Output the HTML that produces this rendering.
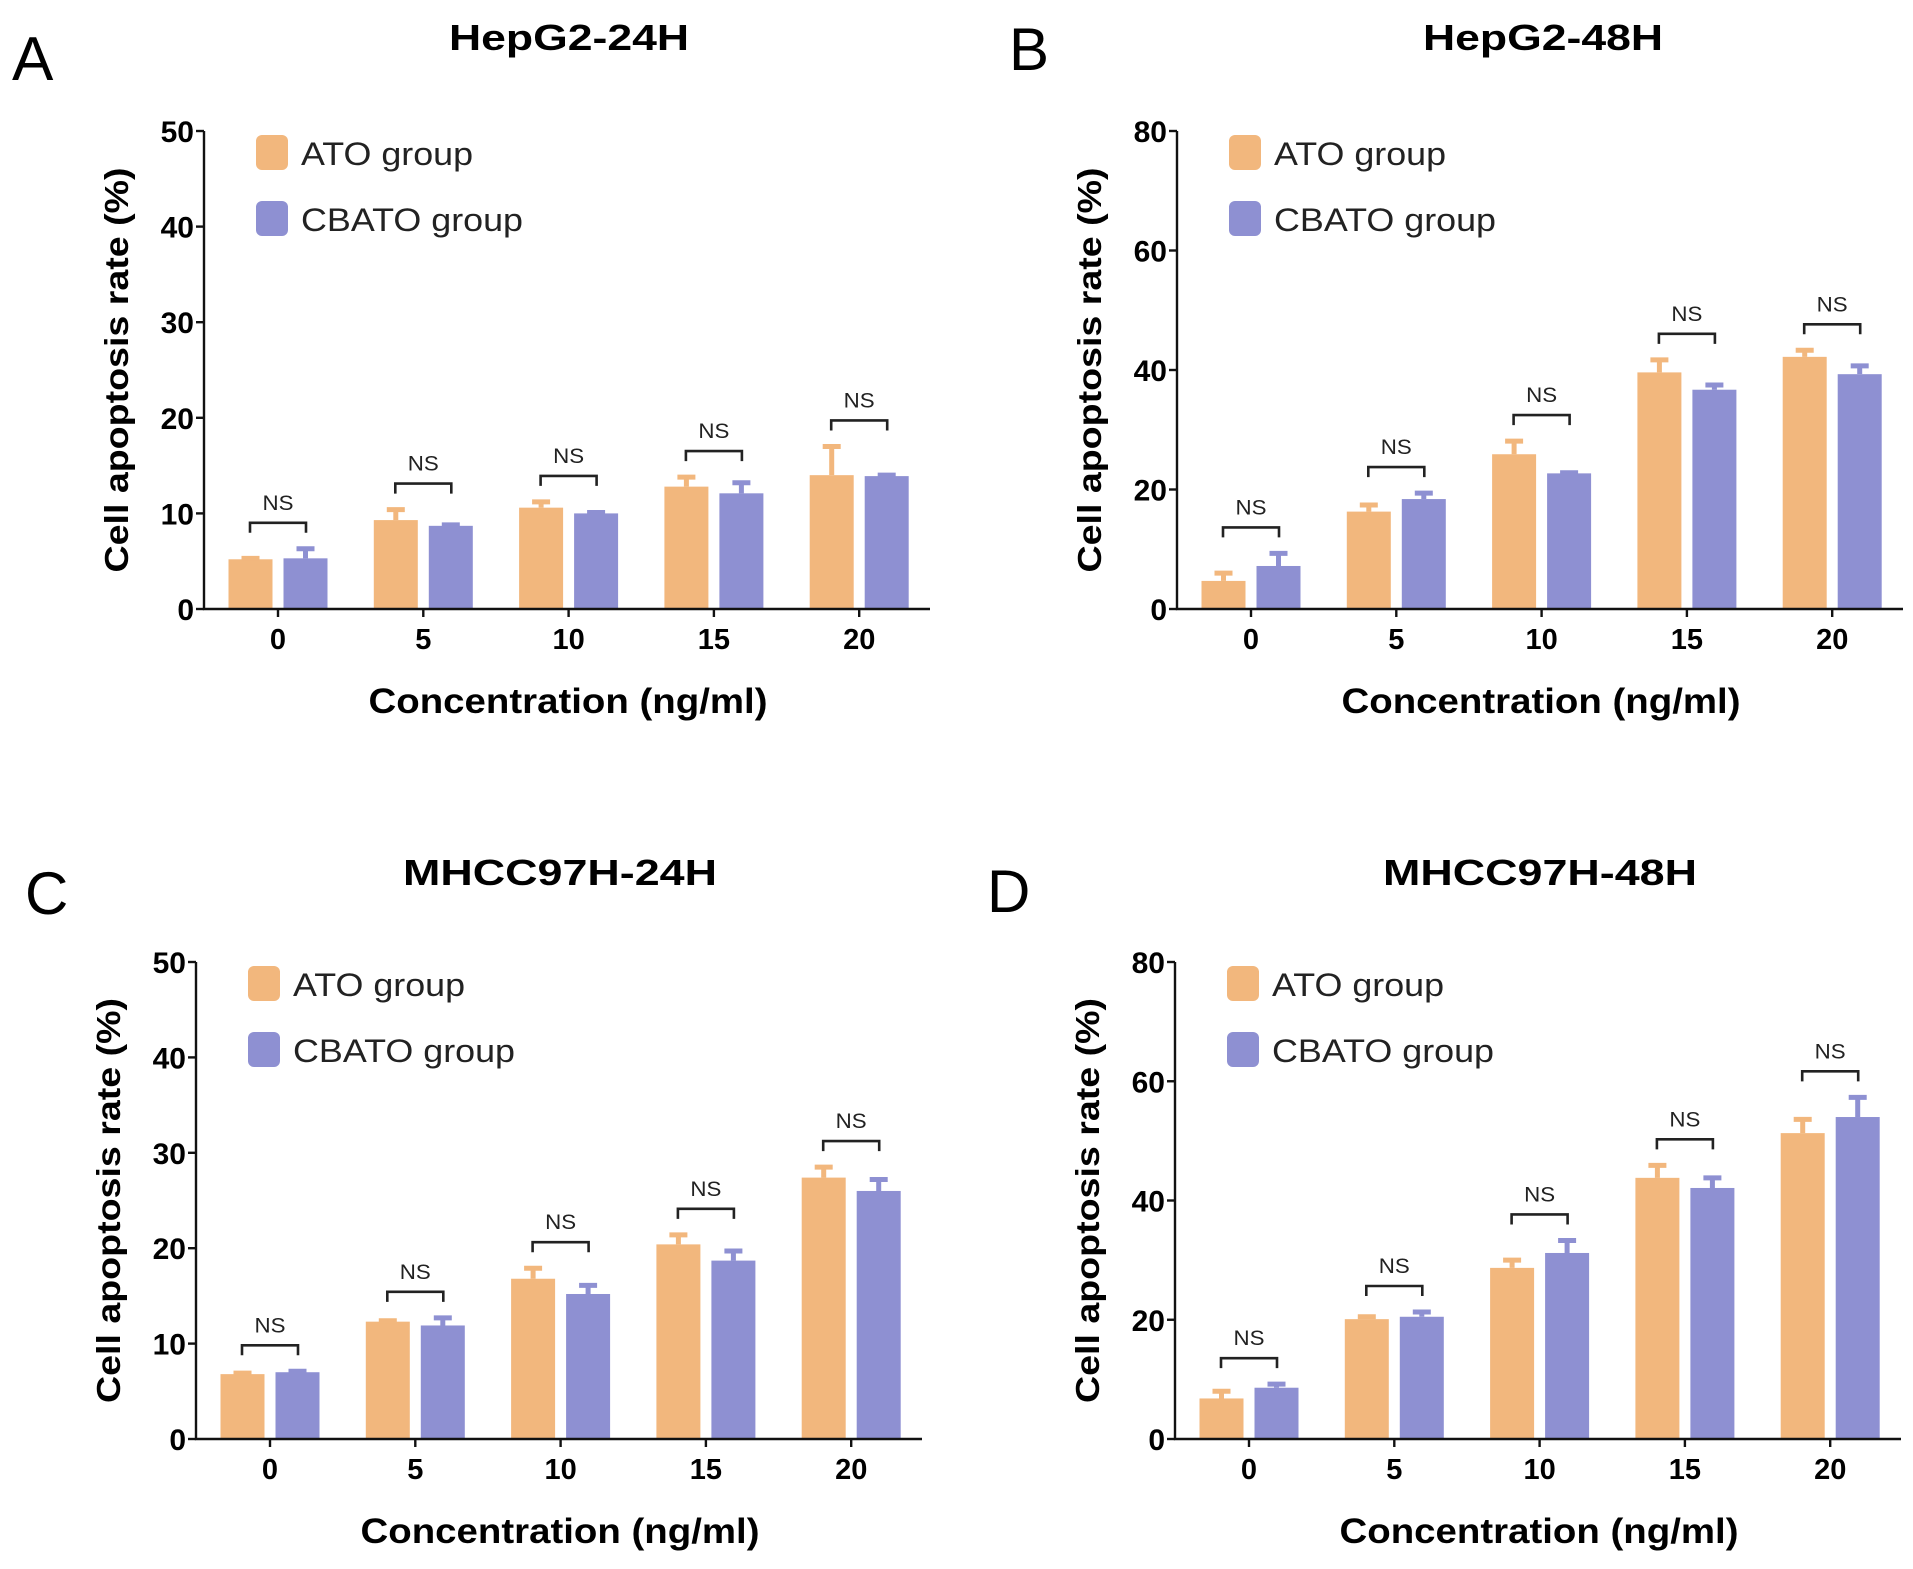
<!DOCTYPE html>
<html><head><meta charset="utf-8">
<style>
html,body{margin:0;padding:0;background:#fff;}
svg{display:block;font-family:"Liberation Sans",Arial,sans-serif;}
</style></head>
<body>
<svg id="fig" width="1913" height="1569" viewBox="0 0 1913 1569">
<text x="12" y="80" font-size="62">A</text>
<text x="1009" y="70" font-size="60">B</text>
<text x="25" y="914" font-size="60">C</text>
<text x="987" y="912" font-size="60">D</text>
</svg>
<script>
const categories = ["0","5","10","15","20"];
const atoA = [5.2, 9.3, 10.6, 12.8, 14.0];
const atoErrA = [0.1, 1.1, 0.6, 1.0, 3.0];
const cbA = [5.3, 8.7, 10.0, 12.1, 13.9];
const cbErrA = [1.0, 0.1, 0.1, 1.1, 0.1];
const atoB = [4.7, 16.3, 25.9, 39.6, 42.2];
const atoErrB = [1.3, 1.1, 2.2, 2.1, 1.1];
const cbB = [7.2, 18.4, 22.7, 36.7, 39.3];
const cbErrB = [2.1, 1.0, 0.1, 0.8, 1.4];
const atoC = [6.8, 12.3, 16.8, 20.4, 27.4];
const atoErrC = [0.1, 0.1, 1.1, 1.0, 1.1];
const cbC = [7.0, 11.9, 15.2, 18.7, 26.0];
const cbErrC = [0.1, 0.8, 0.9, 1.0, 1.2];
const atoD = [6.8, 20.1, 28.7, 43.8, 51.3];
const atoErrD = [1.2, 0.4, 1.3, 2.1, 2.3];
const cbD = [8.6, 20.5, 31.2, 42.1, 54.0];
const cbErrD = [0.6, 0.8, 2.1, 1.7, 3.3];
const ticksA = [0,10,20,30,40,50];
const ticksB = [0,20,40,60,80];
const titles = ["HepG2-24H","HepG2-48H","MHCC97H-24H","MHCC97H-48H"];

const NS = "http://www.w3.org/2000/svg";
const svg = document.getElementById("fig");
const ORANGE = "#F2B77D", PURPLE = "#8E90D2";
function mk(tag, attrs, parent){
  const e = document.createElementNS(NS, tag);
  for (const k in attrs) e.setAttribute(k, attrs[k]);
  (parent||svg).appendChild(e);
  return e;
}

const panels = [
  {id:"a", x0:204, yTop:131, y0:609, ymax:50, ticks:ticksA, ato:atoA, ae:atoErrA, cb:cbA, ce:cbErrA, title:titles[0], tx:569, ty:50, tw:240},
  {id:"b", x0:1177, yTop:131, y0:609, ymax:80, ticks:ticksB, ato:atoB, ae:atoErrB, cb:cbB, ce:cbErrB, title:titles[1], tx:1543, ty:50, tw:240},
  {id:"c", x0:196, yTop:962, y0:1439, ymax:50, ticks:ticksA, ato:atoC, ae:atoErrC, cb:cbC, ce:cbErrC, title:titles[2], tx:560, ty:885, tw:314},
  {id:"d", x0:1175, yTop:962, y0:1439, ymax:80, ticks:ticksB, ato:atoD, ae:atoErrD, cb:cbD, ce:cbErrD, title:titles[3], tx:1540, ty:885, tw:314}
];

panels.forEach(p => {
  const g = mk("g", {});
  
  
  const yS = v => p.y0 - v / p.ymax * (p.y0 - p.yTop);
  const xS = i => p.x0 + 74 + i * 145.3;
  const x1 = p.x0 + 726;

  const t = mk("text", {x:p.tx, y:p.ty, "font-size":36, "font-weight":"bold", "text-anchor":"middle", textLength:p.tw, lengthAdjust:"spacingAndGlyphs"}, g);
  t.textContent = p.title;
  
  

  const series = [[p.ato, p.ae, ORANGE, -27.5, "ato"], [p.cb, p.ce, PURPLE, 27.5, "cbato"]];
  series.forEach(s => {
    s[0].forEach((v, i) => {
      const cx = xS(i) + s[3];
      const top = yS(v);
      const r = mk("rect", {x:cx-22, y:top, width:44, height:p.y0-top, fill:s[2]}, g);
      
      
      const et = yS(v + s[1][i]);
      const e = mk("path", {d:`M${cx} ${top} V${et} M${cx-9} ${et} H${cx+9}`, stroke:s[2], "stroke-width":5, fill:"none"}, g);
      
      
    });
  });

  categories.forEach((c, i) => {
    const hi = Math.min(yS(p.ato[i] + p.ae[i]), yS(p.cb[i] + p.ce[i]));
    const by = hi - 26;
    const l = xS(i) - 28, rr = xS(i) + 28;
    const b = mk("path", {d:`M${l} ${by+10} V${by} H${rr} V${by+10}`, stroke:"#222", "stroke-width":2.6, fill:"none"}, g);
    
    
    const nt = mk("text", {x:xS(i), y:by-13, "font-size":21, "text-anchor":"middle", fill:"#222", textLength:31, lengthAdjust:"spacingAndGlyphs"}, g);
    nt.textContent = "NS";
    
    
  });

  const ax = mk("path", {d:`M${p.x0} ${p.yTop} V${p.y0} H${x1}`, stroke:"#111", "stroke-width":2.4, fill:"none"}, g);
  
  
  p.ticks.forEach(tv => {
    const y = yS(tv);
    const tk = mk("line", {x1:p.x0-8, x2:p.x0, y1:y, y2:y, stroke:"#111", "stroke-width":2.4}, g);
    
    
    const tl = mk("text", {x:p.x0-10, y:y+11, "font-size":30, "font-weight":"bold", "text-anchor":"end"}, g);
    tl.textContent = tv;
    
    
  });
  categories.forEach((c, i) => {
    const x = xS(i);
    const tk = mk("line", {x1:x, x2:x, y1:p.y0, y2:p.y0+8, stroke:"#111", "stroke-width":2.4}, g);
    
    
    const tl = mk("text", {x:x, y:p.y0+40, "font-size":29, "font-weight":"bold", "text-anchor":"middle"}, g);
    tl.textContent = c;
    
    
  });

  const yt = mk("text", {x:0, y:0, "font-size":33, "font-weight":"bold", "text-anchor":"middle", textLength:405, lengthAdjust:"spacingAndGlyphs",
    transform:`translate(${p.x0-76},${(p.yTop+p.y0)/2}) rotate(-90)`}, g);
  yt.textContent = "Cell apoptosis rate (%)";
  
  
  const xt = mk("text", {x:p.x0+364, y:p.y0+104, "font-size":35, "font-weight":"bold", "text-anchor":"middle", textLength:399, lengthAdjust:"spacingAndGlyphs"}, g);
  xt.textContent = "Concentration (ng/ml)";
  
  

  [["ATO group", ORANGE, 4, 172], ["CBATO group", PURPLE, 70, 222]].forEach((L, k) => {
    const sw = mk("rect", {x:p.x0+52, y:p.yTop+L[2], width:32, height:35, rx:6, fill:L[1]}, g);
    
    
    const lt = mk("text", {x:p.x0+97, y:p.yTop+L[2]+30, "font-size":32, fill:"#222", textLength:L[3], lengthAdjust:"spacingAndGlyphs"}, g);
    lt.textContent = L[0];
    
    
  });
});
</script>
</body></html>
